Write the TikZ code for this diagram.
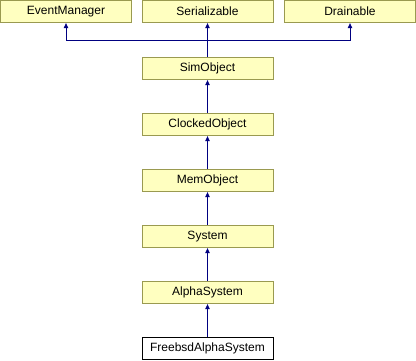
\documentclass[tikz,border=0pt]{standalone}
\usepackage{fontspec}
\setmainfont{Liberation Sans}
\usetikzlibrary{arrows.meta}
\definecolor{boxfill}{HTML}{FFFFC0}
\definecolor{boxline}{HTML}{9A9A50}
\definecolor{edgeblue}{HTML}{000080}
\begin{document}
\begin{tikzpicture}[x=1pt,y=-1pt,
  cls/.style={draw=boxline, fill=boxfill, minimum width=131pt, minimum height=22.5pt,
    inner sep=0pt, line width=0.8pt, font=\fontsize{12}{14}\selectfont},
  leaf/.style={cls, draw=black, fill=white},
  inh/.style={draw=edgeblue, line width=0.8pt, -{Triangle[length=5pt,width=4.5pt]}}]
\useasboundingbox (0,0) rectangle (416,360);
% base classes
\node[cls] (em)  at (66,11.5)    {EventManager};
\node[cls] (ser) at (207.5,11.5) {Serializable};
\node[cls] (dr)  at (350,11.5)   {Drainable};
% inheritance chain
\node[cls]  (sim)   at (207.5,68.5)  {SimObject};
\node[cls]  (clk)   at (207.5,124.5) {ClockedObject};
\node[cls]  (mem)   at (207.5,180.5) {MemObject};
\node[cls]  (sys)   at (207.5,236.5) {System};
\node[cls]  (alpha) at (207.5,292.5) {AlphaSystem};
\node[leaf] (fbsd)  at (207.5,348.5) {FreebsdAlphaSystem};
% SimObject fans out to its three bases
\coordinate (split) at (207.5,40);
\draw[inh] (sim.north) -- (ser.south);
\draw[inh] (sim.north) -- (split) -| (em.south);
\draw[inh] (sim.north) -- (split) -| (dr.south);
% single inheritance links
\draw[inh] (clk.north)   -- (sim.south);
\draw[inh] (mem.north)   -- (clk.south);
\draw[inh] (sys.north)   -- (mem.south);
\draw[inh] (alpha.north) -- (sys.south);
\draw[inh] (fbsd.north)  -- (alpha.south);
\end{tikzpicture}
\end{document}
